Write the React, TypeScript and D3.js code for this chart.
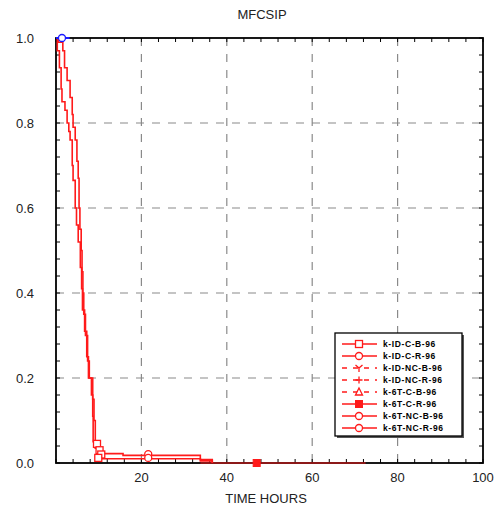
import React from "react";
import * as d3 from "d3";

const title = "MFCSIP";
const xLabel = "TIME HOURS";
const xTicks = [20, 40, 60, 80, 100];
const yTicks = [0.0, 0.2, 0.4, 0.6, 0.8, 1.0];
const legendLabels = [
  "k-ID-C-B-96",
  "k-ID-C-R-96",
  "k-ID-NC-B-96",
  "k-ID-NC-R-96",
  "k-6T-C-B-96",
  "k-6T-C-R-96",
  "k-6T-NC-B-96",
  "k-6T-NC-R-96",
];
const legendDashed = [false, false, true, true, true, false, false, false];
const legendMarkers = ["square", "circle", "tri", "plus", "triangle", "filledSquare", "circle", "circle"];

// curve A (faster decline)
const curveATime = [0, 0.3, 0.8, 1.2, 1.4, 2.1, 2.6, 3.0, 3.3, 3.8, 4.0, 4.5, 4.8, 5.2, 5.7, 6.0, 6.2, 6.7, 7.2, 7.6, 8.3, 8.6, 8.7, 9.2, 10.8, 15.7, 33.8, 36.6];
const curveASurv = [1, 0.97, 0.93, 0.88, 0.85, 0.83, 0.8, 0.78, 0.76, 0.7, 0.665, 0.6, 0.56, 0.52, 0.46, 0.41, 0.36, 0.31, 0.25, 0.2, 0.16, 0.11, 0.05, 0.035, 0.022, 0.018, 0.008, 0];
// curve B (slower decline)
const curveBTime = [0, 0.5, 1.6, 2.0, 2.6, 3.3, 3.8, 4.0, 4.5, 4.9, 5.2, 5.4, 5.6, 5.9, 6.1, 6.3, 6.5, 6.9, 7.4, 7.8, 8.6, 8.9, 9.2, 9.8, 10.8, 33.8, 36.6];
const curveBSurv = [1, 0.99, 0.97, 0.93, 0.9, 0.86, 0.82, 0.79, 0.76, 0.71, 0.67, 0.6, 0.55, 0.5, 0.45, 0.4, 0.35, 0.3, 0.24, 0.2, 0.15, 0.1, 0.05, 0.03, 0.01, 0.005, 0];
// curve C (zero tail)
const curveCTime = [33.8, 72.5];
const curveCSurv = [0, 0];
// blue curve at the top
const curveDTime = [0, 3.2];
const curveDSurv = [1, 1];

// markers
const squareMarkT = [9.6, 10.2, 10.6, 9.9];
const squareMarkS = [0.045, 0.03, 0.02, 0.012];
const circleMarkT = [21.6, 21.6];
const circleMarkS = [0.021, 0.012];
const filledMarkT = [47.0];
const filledMarkS = [0.0];
const blueMarkT = [1.4];
const blueMarkS = [1.0];

const RED = "#ff1a1a";

function Marker({ type, x, y, color }: { type: string; x: number; y: number; color: string }) {
  const r = 3.5;
  switch (type) {
    case "square":
      return <rect x={x - r} y={y - r} width={2 * r} height={2 * r} fill="white" stroke={color} strokeWidth={1.3} />;
    case "filledSquare":
      return <rect x={x - r} y={y - r} width={2 * r} height={2 * r} fill={color} stroke={color} strokeWidth={1} />;
    case "circle":
      return <circle cx={x} cy={y} r={r} fill="white" stroke={color} strokeWidth={1.3} />;
    case "tri":
      return (
        <path d={`M${x},${y} L${x - 3.5},${y - 3} M${x},${y} L${x + 3.5},${y - 3} M${x},${y} L${x},${y + 4}`} stroke={color} strokeWidth={1.3} fill="none" />
      );
    case "plus":
      return <path d={`M${x - 3.5},${y} H${x + 3.5} M${x},${y - 3.5} V${y + 3.5}`} stroke={color} strokeWidth={1.3} fill="none" />;
    case "triangle":
      return <path d={`M${x},${y - 4} L${x + 3.5},${y + 3} L${x - 3.5},${y + 3} Z`} stroke={color} strokeWidth={1.3} fill="white" />;
    default:
      return null;
  }
}

export default function App() {
  const W = 495;
  const H = 515;
  const left = 56;
  const right = 483;
  const top = 38;
  const bottom = 463;

  const x = d3.scaleLinear().domain([0, 100]).range([left, right]);
  const y = d3.scaleLinear().domain([0, 1]).range([bottom, top]);

  const line = d3
    .line<[number, number]>()
    .x((d) => x(d[0]))
    .y((d) => y(d[1]))
    .curve(d3.curveStepAfter);

  const zip = (t: number[], s: number[]) => t.map((v, i) => [v, s[i]] as [number, number]);

  const minorX = d3.range(0, 100.001, 4);
  const minorY = d3.range(0, 1.0001, 0.04);
  const tickLen = 4;

  const legX = 335;
  const legY = 333;
  const legW = 127;
  const legH = 103;
  const rowH = 12;

  const font = "Arial, 'Liberation Sans', sans-serif";

  return (
    <svg width={W} height={H} style={{ position: "fixed", left: 0, top: 0, background: "white" }} fontFamily={font}>
      <rect x={0} y={0} width={W} height={H} fill="white" />
      <text x={262} y={19} textAnchor="middle" fontSize={13} fill="#222">
        {title}
      </text>

      {/* grid */}
      {xTicks.filter((t) => t < 100).map((t) => (
        <line key={"gx" + t} x1={x(t)} x2={x(t)} y1={top} y2={bottom} stroke="#8a8a8a" strokeWidth={1.2} strokeDasharray="8,8" />
      ))}
      {yTicks.filter((t) => t > 0 && t < 1).map((t) => (
        <line key={"gy" + t} x1={left} x2={right} y1={y(t)} y2={y(t)} stroke="#8a8a8a" strokeWidth={1.2} strokeDasharray="8,8" />
      ))}

      {/* minor ticks */}
      {minorX.map((t) => (
        <g key={"mx" + t}>
          <line x1={x(t)} x2={x(t)} y1={bottom} y2={bottom - tickLen} stroke="#000" strokeWidth={1} />
          <line x1={x(t)} x2={x(t)} y1={top} y2={top + tickLen} stroke="#000" strokeWidth={1} />
        </g>
      ))}
      {minorY.map((t) => (
        <g key={"my" + t}>
          <line x1={left} x2={left + tickLen} y1={y(t)} y2={y(t)} stroke="#000" strokeWidth={1} />
          <line x1={right} x2={right - tickLen} y1={y(t)} y2={y(t)} stroke="#000" strokeWidth={1} />
        </g>
      ))}

      {/* frame */}
      <rect x={left} y={top} width={right - left} height={bottom - top} fill="none" stroke="#000" strokeWidth={1.8} />

      {/* curves */}
      <path d={line(zip(curveCTime, curveCSurv)) || ""} fill="none" stroke={RED} strokeWidth={1.2} />
      <path d={line(zip(curveATime, curveASurv)) || ""} fill="none" stroke={RED} strokeWidth={1.6} />
      <path d={line(zip(curveBTime, curveBSurv)) || ""} fill="none" stroke={RED} strokeWidth={1.6} />
      <path d={line(zip(curveDTime, curveDSurv)) || ""} fill="none" stroke="#1a1aff" strokeWidth={2} />

      {squareMarkT.map((t, i) => (
        <Marker key={"sq" + i} type="square" x={x(t)} y={y(squareMarkS[i])} color={RED} />
      ))}
      {circleMarkT.map((t, i) => (
        <Marker key={"ci" + i} type="circle" x={x(t)} y={y(circleMarkS[i])} color={RED} />
      ))}
      {filledMarkT.map((t, i) => (
        <Marker key={"fs" + i} type="filledSquare" x={x(t)} y={y(filledMarkS[i])} color={RED} />
      ))}
      {blueMarkT.map((t, i) => (
        <Marker key={"bl" + i} type="circle" x={x(t)} y={y(blueMarkS[i])} color="#1a1aff" />
      ))}

      {/* tick labels */}
      {yTicks.map((t) => (
        <text key={"yl" + t} x={34} y={y(t) + 5} textAnchor="end" fontSize={13} fill="#222">
          {t.toFixed(1)}
        </text>
      ))}
      {xTicks.map((t) => (
        <text key={"xl" + t} x={x(t)} y={482} textAnchor="middle" fontSize={13} fill="#222">
          {t}
        </text>
      ))}
      <text x={266} y={503} textAnchor="middle" fontSize={13} fill="#222">
        {xLabel}
      </text>

      {/* legend */}
      <rect x={legX + 2} y={legY + 2} width={legW} height={legH} fill="#555" />
      <rect x={legX} y={legY} width={legW} height={legH} fill="white" stroke="#000" strokeWidth={1.3} />
      {legendLabels.map((lab, i) => {
        const cy = legY + 11 + i * rowH;
        return (
          <g key={"lg" + i}>
            <line x1={legX + 7} x2={legX + 42} y1={cy} y2={cy} stroke={RED} strokeWidth={1.3} strokeDasharray={legendDashed[i] ? "5,6" : undefined} />
            <Marker type={legendMarkers[i]} x={legX + 24} y={cy} color={RED} />
            <text x={legX + 48} y={cy + 3} fontSize={8.5} fontWeight="bold" fill="#000" letterSpacing={0.6}>
              {lab}
            </text>
          </g>
        );
      })}
    </svg>
  );
}
